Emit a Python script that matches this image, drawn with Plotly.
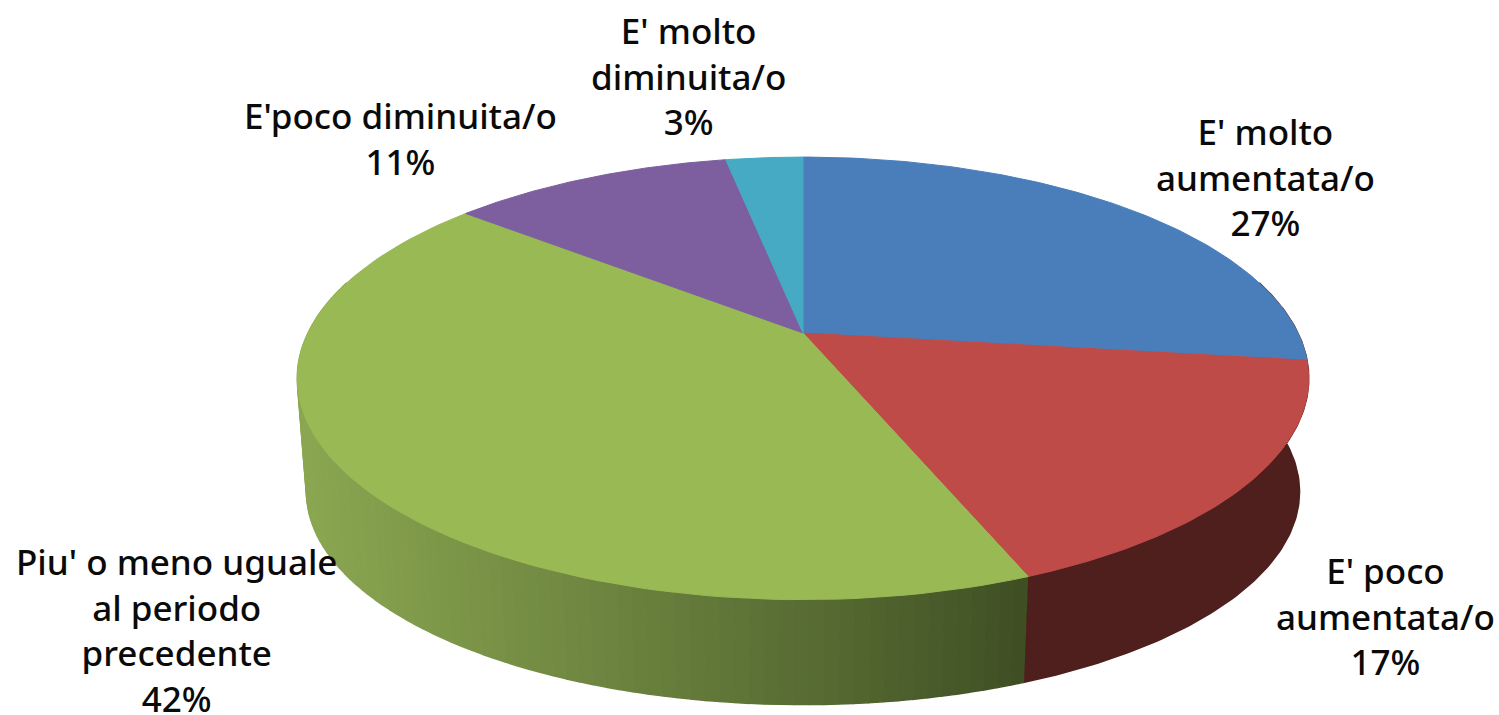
import numpy as np
import plotly.graph_objects as go

categories = ["E' molto aumentata/o", "E' poco aumentata/o", "Piu' o meno uguale al periodo precedente",
              "E'poco diminuita/o", "E' molto diminuita/o"]
values = [27, 17, 42, 11, 3]
colors = ['#4a7ebb', '#be4b48', '#98b954', '#7d5fa0', '#46aac4']
label_text = ["E' molto<br>aumentata/o<br>27%", "E' poco<br>aumentata/o<br>17%",
              "Piu' o meno uguale<br>al periodo<br>precedente<br>42%",
              "E'poco diminuita/o<br>11%", "E' molto<br>diminuita/o<br>3%"]
label_x = [1265, 1385, 176, 400, 688]
label_y = [177, 616, 630, 138, 76]


# perspective view of the pie disc, angle runs clockwise from 12 o'clock
def project(angle, r=1.0, cy=333, a=495, b=212, k=0.205):
    px = r * np.sin(angle)
    py = r * np.cos(angle)
    d = 1 + k * py
    return 803 + a * px / d, cy - b * py / d


def rim_low(angle):
    return project(angle, cy=448, a=486, b=204)


def mix(c1, c2, t):
    rgb = [int(c1[i:i + 2], 16) * (1 - t) + int(c2[i:i + 2], 16) * t for i in (1, 3, 5)]
    return 'rgb(%d,%d,%d)' % tuple(rgb)


def poly(x, y, color):
    return go.Scatter(x=x, y=y, mode='lines', fill='toself', fillcolor=color,
                      line=dict(color=color, width=1.5), hoverinfo='skip', showlegend=False)


edges = 2 * np.pi * np.cumsum([0] + values) / sum(values)
fig = go.Figure()

# side wall of the red slice
t = np.linspace(np.pi * 0.42, edges[2], 120)
xt, yt = project(t)
xb, yb = rim_low(t[::-1])
fig.add_trace(poly(np.r_[xt, xb], np.r_[yt, yb], '#4e1f1d'))

# side wall of the green slice, thin strips for the shading
strips = np.linspace(edges[2], 1.58 * np.pi, 91)
for i in range(90):
    t = strips[i:i + 2]
    xt, yt = project(t)
    xb, yb = rim_low(t[::-1])
    shade = (xt.mean() - 1035) / (310 - 1035)
    fig.add_trace(poly(np.r_[xt, xb], np.r_[yt, yb], mix('#3d4d23', '#8aa651', shade ** 0.9)))

# top face
for i, name in enumerate(categories):
    t = np.linspace(edges[i], edges[i + 1], 100)
    x, y = project(t)
    cx, cy = project(0.0, r=0.0)
    fig.add_trace(go.Scatter(x=np.r_[cx, x, cx], y=np.r_[cy, y, cy], mode='lines', fill='toself',
                             fillcolor=colors[i], line=dict(color=colors[i], width=1), name=name,
                             hoverinfo='name', showlegend=False))

for text, x, y in zip(label_text, label_x, label_y):
    fig.add_annotation(x=x, y=y, xref='x', yref='y', text=text, showarrow=False, align='center',
                       font=dict(family='Noto Sans', size=35, color='#0a0a0a', weight=500))

fig.update_layout(width=1499, height=715, margin=dict(l=0, r=0, t=0, b=0),
                  paper_bgcolor='white', plot_bgcolor='white',
                  xaxis=dict(range=[0, 1499], visible=False),
                  yaxis=dict(range=[715, 0], visible=False))
# page margin would push the figure 8px off
fig.write_html("out.html", config=dict(displayModeBar=False),
               post_script="document.body.style.margin='0';document.body.style.overflow='hidden';")
